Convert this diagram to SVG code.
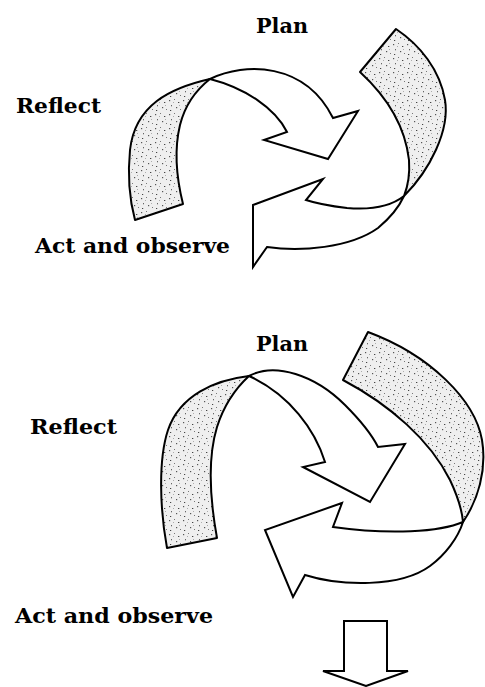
<svg xmlns="http://www.w3.org/2000/svg" width="485" height="687" viewBox="0 0 485 687">
<style>
.lbl{font-family:"DejaVu Serif","Liberation Serif",serif;font-weight:bold;font-size:21px;fill:#000}
.g{fill:url(#stip);stroke:#000;stroke-width:2;stroke-linejoin:round}
.w{fill:#fff;stroke:#000;stroke-width:2;stroke-linejoin:miter}
</style>
<defs>
<pattern id="stip" width="14" height="14" patternUnits="userSpaceOnUse">
<rect width="14" height="14" fill="#efefef"/>
<rect x="1" y="2" width="1.2" height="1.2" fill="#555"/>
<rect x="6" y="1" width="1" height="1" fill="#777"/>
<rect x="10" y="4" width="1.3" height="1" fill="#444"/>
<rect x="3" y="7" width="1" height="1.3" fill="#666"/>
<rect x="8" y="9" width="1.2" height="1.2" fill="#555"/>
<rect x="12" y="11" width="1" height="1" fill="#777"/>
<rect x="2" y="12" width="1.2" height="1" fill="#444"/>
<rect x="5" y="4" width="0.8" height="0.8" fill="#888"/>
<rect x="11" y="7" width="0.8" height="0.8" fill="#888"/>
</pattern>
</defs>

<g id="cycle1">
<g id="ribbonA">
<path class="g" d="M210,79 C170,88 135,105 130,150 C127,180 131,205 135,220 L183,204 C177,180 174,150 180,125 C185,105 196,90 210,79 Z"/>
<path class="w" d="M210,79 C245,62 305,62 333,118 L358,111 L328,159 L264,140 L287,132 C275,108 245,88 210,79 Z"/>
</g>
<g id="ribbonB">
<path class="g" d="M404,196 C430,170 450,130 445,100 C440,70 420,45 396,29 L360,72 C385,95 405,125 409,160 C410,175 408,186 404,196 Z"/>
<path class="w" d="M404,196 C390,207 370,210 347,208 C330,206 315,203 306,200 L323,179 L253,205 L253,267 L267,247 C300,252 350,248 378,228 C390,218 399,207 404,196 Z"/>
</g>
<text id="plan1" class="lbl" x="256" y="33" textLength="52" lengthAdjust="spacingAndGlyphs">Plan</text>
<text id="reflect1" class="lbl" x="16" y="113" textLength="85" lengthAdjust="spacingAndGlyphs">Reflect</text>
<text id="act1" class="lbl" x="35" y="253" textLength="195" lengthAdjust="spacingAndGlyphs">Act and observe</text>
</g>

<g id="cycle2">
<g id="ribbonC">
<path class="g" d="M249,376 C215,380 180,395 168,430 C158,460 160,510 167,548 L217,538 C211,505 207,460 217,427 C224,405 236,388 249,376 Z"/>
<path class="w" d="M249,376 C275,362 315,375 345,405 C360,420 372,435 378,447 L405,444 L370,502 L303,467 L325,462 C315,430 290,395 249,376 Z"/>
</g>
<g id="ribbonD">
<path class="g" d="M463,522 C478,500 487,470 482,440 C475,400 430,355 368,332 L343,380 C390,405 430,440 450,480 C458,497 462,510 463,522 Z"/>
<path class="w" d="M463,522 C440,532 390,535 333,527 L342,503 L265,530 L293,597 L305,575 C340,586 400,588 430,566 C445,555 458,538 463,522 Z"/>
</g>
<text id="plan2" class="lbl" x="256" y="351" textLength="52" lengthAdjust="spacingAndGlyphs">Plan</text>
<text id="reflect2" class="lbl" x="30" y="434" textLength="87" lengthAdjust="spacingAndGlyphs">Reflect</text>
<text id="act2" class="lbl" x="15" y="623" textLength="198" lengthAdjust="spacingAndGlyphs">Act and observe</text>
</g>

<g id="connectors">
<path id="down" class="w" d="M344,621 L387,621 L387,671 L408,671 L366,686 L323,671 L344,671 Z"/>
</g>
</svg>
